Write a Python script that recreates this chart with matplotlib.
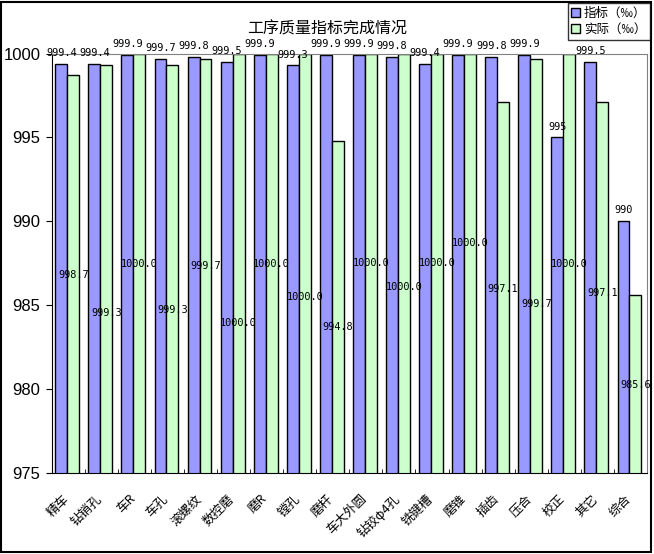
# -*- coding: utf-8 -*-
"""
Bar chart of process quality targets vs actual results
"""

import matplotlib.pyplot as plt
import matplotlib.transforms as mtransforms
from matplotlib.patches import Rectangle
import numpy as np

# process names
categories = ['精车', '钻销孔', '车R', '车孔', '滚螺纹', '数控磨', '磨R', '镗孔', '磨杆',
              '车大外圆', '钻铰φ4孔', '铣键槽', '磨锥', '插齿', '压合', '校正', '其它', '综合']

# target values (per mille)
target = [999.4, 999.4, 999.9, 999.7, 999.8, 999.5, 999.9, 999.3, 999.9,
          999.9, 999.8, 999.4, 999.9, 999.8, 999.9, 995.0, 999.5, 990.0]

# actual values (per mille)
actual = [998.7, 999.3, 1000.0, 999.3, 999.7, 1000.0, 1000.0, 1000.0, 994.8,
          1000.0, 1000.0, 1000.0, 1000.0, 997.1, 999.7, 1000.0, 997.1, 985.6]

# where the labels of the actual series sit (the source chart scatters them)
actual_label_y = [986.8, 984.55, 987.45, 984.7, 987.3, 983.95, 987.45, 985.45, 983.7,
                  987.5, 986.1, 987.5, 988.7, 985.95, 985.05, 987.45, 985.7, 980.25]

BLUE = '#9999FF'
GREEN = '#CCFFCC'
CJK = ['Noto Sans CJK SC', 'DejaVu Sans']


def quality_plot(out_file):
    """
    Plots the grouped bar chart and saves it to out_file
    """
    plt.rcParams['font.family'] = CJK

    fig = plt.figure(figsize=(6.54, 5.54), dpi=100)
    ax = fig.add_axes([51.7 / 654, 1 - 472.7 / 554, (647 - 51.7) / 654, (472.7 - 53.5) / 554])

    x = np.arange(len(categories))
    width = 0.36
    ax.bar(x - 0.21, target, width, bottom=0, color=BLUE, edgecolor='black',
           linewidth=1, label='指标（‰）', zorder=2)
    ax.bar(x + 0.15, actual, width, bottom=0, color=GREEN, edgecolor='black',
           linewidth=1, label='实际（‰）', zorder=2)

    ax.set_xlim(-0.5, len(categories) - 0.5)
    ax.set_ylim(975, 1000)

    # value labels
    for i, v in enumerate(target):
        ax.annotate('%g' % v, (x[i] - 0.21, v), xytext=(0, 7.7), textcoords='offset points',
                    ha='center', va='center', fontsize=7.4, family='DejaVu Sans Mono',
                    annotation_clip=False, zorder=5)
    for i, v in enumerate(actual):
        ax.text(x[i] + 0.15, actual_label_y[i], '%.1f' % v, ha='center', va='center',
                fontsize=7.4, family='DejaVu Sans Mono', zorder=5)

    # axes styling
    for side in ['top', 'right']:
        ax.spines[side].set_color('#808080')
    for side in ['left', 'bottom']:
        ax.spines[side].set_color('black')
    ax.set_yticks([975, 980, 985, 990, 995, 1000])
    ax.tick_params(axis='y', direction='out', length=4, pad=4, labelsize=12)
    for lab in ax.get_yticklabels():
        lab.set_family(['Liberation Sans Narrow', 'Liberation Sans'])

    ax.set_xticks(x)
    ax.set_xticklabels(categories, rotation=45, ha='right', va='top',
                       rotation_mode='anchor', fontsize=9)
    ax.set_xticks(np.arange(len(categories) + 1) - 0.5, minor=True)
    ax.tick_params(axis='x', which='major', length=0, pad=14)
    ax.tick_params(axis='x', which='minor', direction='in', length=3)
    shift = mtransforms.ScaledTranslation(-6 / 100, 0, fig.dpi_scale_trans)
    for lab in ax.get_xticklabels():
        lab.set_transform(lab.get_transform() + shift)

    fig.text(327.5 / 654, 1 - 29.5 / 554, '工序质量指标完成情况', ha='center', va='center',
             fontsize=11.5)

    leg = fig.legend(loc='upper right', bbox_to_anchor=(650 / 654, 1 - 3 / 554),
                     fontsize=9, frameon=True, fancybox=False, borderaxespad=0,
                     handlelength=0.7, handleheight=0.7, handletextpad=0.3,
                     labelspacing=0.25, borderpad=0.3)
    leg.get_frame().set_edgecolor('black')
    leg.get_frame().set_linewidth(1)

    # outer border of the chart
    fig.patches.append(Rectangle((1 / 654, 2 / 554), 650 / 654, 550 / 554,
                                 transform=fig.transFigure, fill=False,
                                 edgecolor='black', linewidth=1.5))

    fig.savefig(out_file, dpi=100)


quality_plot('out.png')
